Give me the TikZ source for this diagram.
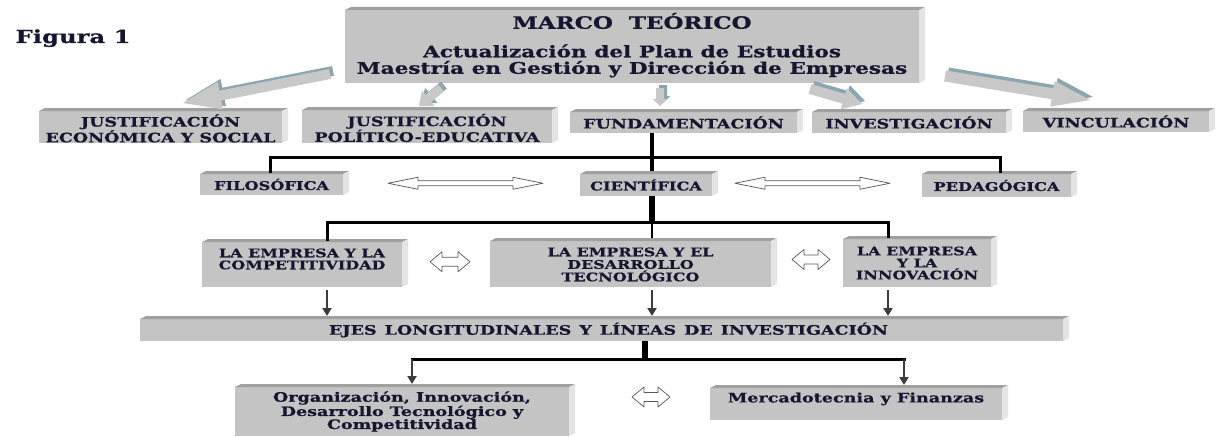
\documentclass[tikz,border=0pt]{standalone}
\usepackage{fontspec}
\setmainfont[FakeStretch=1.35,BoldFeatures={FakeBold=0.8}]{DejaVu Serif}
\usetikzlibrary{arrows.meta,calc}
\definecolor{face}{RGB}{196,196,196}
\definecolor{bevtop}{RGB}{160,160,160}
\definecolor{bevside}{RGB}{228,228,228}
\definecolor{txt}{RGB}{22,22,48}
\definecolor{arrface}{RGB}{200,200,200}
\definecolor{arrside}{RGB}{140,166,176}
\definecolor{conn}{RGB}{60,60,60}
\newcommand\bxc[3]{\parbox[c][#2pt][c]{#1pt}{\centering #3}}
\newcommand\bxt[4]{\parbox[c][#2pt][t]{#1pt}{\centering\vspace*{#3pt}#4}}
\newdimen\bax \newdimen\bay \newdimen\bbx \newdimen\bby
\newcommand\blockarrow[5]{%
  \pgfextractx{\bax}{\pgfpointanchor{#1}{center}}%
  \pgfextracty{\bay}{\pgfpointanchor{#1}{center}}%
  \pgfextractx{\bbx}{\pgfpointanchor{#2}{center}}%
  \pgfextracty{\bby}{\pgfpointanchor{#2}{center}}%
  \pgfmathsetmacro\baang{atan2(\bby-\bay,\bbx-\bax)}%
  \pgfmathsetmacro\balen{veclen(\bbx-\bax,\bby-\bay)}%
  \begin{scope}[shift={(#1)},shift={(3,-3)},rotate=\baang]
    \fill[arrside] (0,-#3) -- (\balen-#5,-#3) -- (\balen-#5,-#4) -- (\balen,0) -- (\balen-#5,#4) -- (\balen-#5,#3) -- (0,#3) -- cycle;
  \end{scope}
  \begin{scope}[shift={(#1)},rotate=\baang]
    \fill[arrface] (0,-#3) -- (\balen-#5,-#3) -- (\balen-#5,-#4) -- (\balen,0) -- (\balen-#5,#4) -- (\balen-#5,#3) -- (0,#3) -- cycle;
  \end{scope}}
\newcommand\dblarrow[5]{%
  \begin{scope}[shift={(#1)}]
    \draw[dblarr] (-#2,0) -- (-#2+#3,#5) -- (-#2+#3,#4) -- (#2-#3,#4) -- (#2-#3,#5) -- (#2,0) -- (#2-#3,-#5) -- (#2-#3,-#4) -- (-#2+#3,-#4) -- (-#2+#3,-#5) -- cycle;
  \end{scope}}
\tikzset{
  box/.style={fill=face, inner sep=0pt, outer sep=0pt, text=txt, font=\bfseries},
  dblarr/.style={draw=black!65, fill=white, line width=0.7pt, line join=round},
  thickv/.style={line width=4.5pt, black},
  thickw/.style={line width=6pt, black},
  midline/.style={line width=3pt, black, line cap=rect, line join=miter},
  thinline/.style={line width=2.5pt, black},
  arr/.style={conn, line width=2pt, -{Triangle[width=9pt,length=8pt]}},
}
\begin{document}
\begin{tikzpicture}[x=1pt,y=-1pt]
\useasboundingbox (0,0) rectangle (1225,436);
\fill[white] (0,0) rectangle (1225,436);

\node[anchor=base west, text=txt, font=\bfseries\fontsize{18}{18}\selectfont] (fig) at (12,43) {Figura 1};

% boxes
\node[box] (title) at (632,46.5) {\bxt{574}{73}{3}{\fontsize{17}{17}\selectfont MARCO\ \ TEÓRICO\\[12pt]\fontsize{16}{16.5}\selectfont Actualización del Plan de Estudios\\Maestría en Gestión y Dirección de Empresas}};
\node[box] (jes) at (160.5,127) {\bxt{243}{32}{3.5}{\fontsize{13}{14}\selectfont JUSTIFICACIÓN\\ECONÓMICA Y SOCIAL}};
\node[box] (jpe) at (427,126.5) {\bxt{250}{33}{4}{\fontsize{13}{14}\selectfont JUSTIFICACIÓN\\POLÍTICO-EDUCATIVA}};
\node[box] (fund) at (683.5,122.5) {\bxc{227}{21}{\fontsize{13}{14}\selectfont FUNDAMENTACIÓN}};
\node[box] (inv) at (909,122.5) {\bxc{194}{21}{\fontsize{13}{14}\selectfont INVESTIGACIÓN}};
\node[box] (vin) at (1116,121.5) {\bxc{186}{21}{\fontsize{13}{14}\selectfont VINCULACIÓN}};
\node[box] (filo) at (271.5,184.5) {\bxc{143}{21}{\fontsize{12}{13}\selectfont FILOSÓFICA}};
\node[box] (cien) at (646,185) {\bxc{132}{22}{\fontsize{12}{13}\selectfont CIENTÍFICA}};
\node[box] (ped) at (996.5,185.5) {\bxc{149}{23}{\fontsize{12}{13}\selectfont PEDAGÓGICA}};
\node[box] (emp1) at (302,264.5) {\bxt{200}{45}{6.5}{\fontsize{11.8}{12}\selectfont LA EMPRESA Y LA\\COMPETITIVIDAD}};
\node[box] (emp2) at (630.5,264) {\bxt{281}{46}{6.5}{\fontsize{11.8}{12.5}\selectfont LA EMPRESA Y EL\\DESARROLLO\\TECNOLÓGICO}};
\node[box] (emp3) at (917,263) {\bxc{148}{48}{\fontsize{11.8}{12}\selectfont LA EMPRESA\\Y LA\\INNOVACIÓN}};
\node[box] (ejes) at (601.5,330) {\bxc{923}{22}{\fontsize{13}{14}\selectfont\hspace*{14pt}EJES\hspace{8pt}LONGITUDINALES\hspace{8pt}Y\hspace{8pt}LÍNEAS\hspace{8pt}DE\hspace{8pt}INVESTIGACIÓN}};
\node[box] (org) at (402,411.5) {\bxc{334}{49}{\fontsize{13}{13}\selectfont Organización, Innovación,\\Desarrollo Tecnológico y\\Competitividad}};
\node[box] (merc) at (856,404) {\bxt{292}{32}{4.5}{\fontsize{13}{13}\selectfont Mercadotecnia y Finanzas}};

% 3D bevels
\foreach \n in {title,jes,jpe,fund,inv,vin,filo,cien,ped,emp1,emp2,emp3,ejes,org,merc}{
  \fill[bevtop] (\n.north west) -- ++(6,-3) -- ([shift={(6,-3)}]\n.north east) -- (\n.north east) -- cycle;
  \fill[bevside] (\n.north east) -- ++(6,-3) -- ([shift={(6,-3)}]\n.south east) -- (\n.south east) -- cycle;
}

% block arrows from the title
\coordinate (a1s) at (330,74);  \coordinate (a1e) at (183,103);
\coordinate (a2s) at (441,88);  \coordinate (a2e) at (419,106);
\coordinate (a3s) at (660,88);  \coordinate (a3e) at (660,106);
\coordinate (a4s) at (810,89);  \coordinate (a4e) at (862,104);
\coordinate (a5s) at (945,76);  \coordinate (a5e) at (1090,100);
\blockarrow{a1s}{a1e}{5}{14}{38}
\blockarrow{a2s}{a2e}{4.5}{10}{12}
\blockarrow{a3s}{a3e}{4}{7.5}{7}
\blockarrow{a4s}{a4e}{5}{11}{19}
\blockarrow{a5s}{a5e}{5.5}{13}{38}

% connectors
\coordinate (h1l) at (270,157); \coordinate (h1r) at (1000,157); \coordinate (h1c) at (652,157);
\draw[thickv, shorten >=3pt] (h1c |- fund.south) -- (h1c |- cien.north);
\draw[midline, shorten <=3pt, shorten >=3pt] (h1l |- filo.north) -- (h1l) -- (h1r) -- (h1r |- ped.north);

\coordinate (h2l) at (327,222); \coordinate (h2r) at (888,222); \coordinate (h2c) at (652,222);
\draw[thickw] (h2c |- cien.south) -- (h2c);
\draw[midline, shorten <=3pt, shorten >=3pt] (h2l |- emp1.north) -- (h2l) -- (h2r) -- (h2r |- emp3.north);
\draw[thinline, shorten >=3pt] (h2c) -- (h2c |- emp2.north);
\draw[arr, shorten <=3pt, shorten >=3pt] (h2l |- emp1.south) -- (h2l |- ejes.north);
\draw[arr, shorten <=3pt, shorten >=3pt] (h2c |- emp2.south) -- (h2c |- ejes.north);
\draw[arr, shorten <=3pt, shorten >=3pt] (h2r |- emp3.south) -- (h2r |- ejes.north);

\coordinate (h3l) at (412,359); \coordinate (h3r) at (904,359); \coordinate (h3c) at (645,359);
\draw[thickw] (h3c |- ejes.south) -- (h3c);
\draw[midline] (h3l) -- (h3r);
\draw[arr, shorten >=3pt] (h3l) -- (h3l |- org.north);
\draw[arr, shorten >=3pt] (h3r) -- (h3r |- merc.north);

% double arrows
\coordinate (d1) at ($(filo.east)!0.5!(cien.west)+(4,-1.5)$);
\coordinate (d2) at ($(cien.east)!0.5!(ped.west)+(-4.5,-2)$);
\coordinate (d3) at ($(emp1.east)!0.5!(emp2.west)+(4,-2.5)$);
\coordinate (d4) at ($(emp2.east)!0.5!(emp3.west)+(4,-4)$);
\coordinate (d5) at ($(org.east)!0.5!(merc.west)+(11.5,-10.75)$);
\dblarrow{d1}{77.5}{30}{2.5}{6}
\dblarrow{d2}{77.5}{30}{2.5}{6}
\dblarrow{d3}{20}{12}{4.5}{10}
\dblarrow{d4}{19}{12}{4.5}{10}
\dblarrow{d5}{19}{12}{4.5}{10}
\end{tikzpicture}
\end{document}
